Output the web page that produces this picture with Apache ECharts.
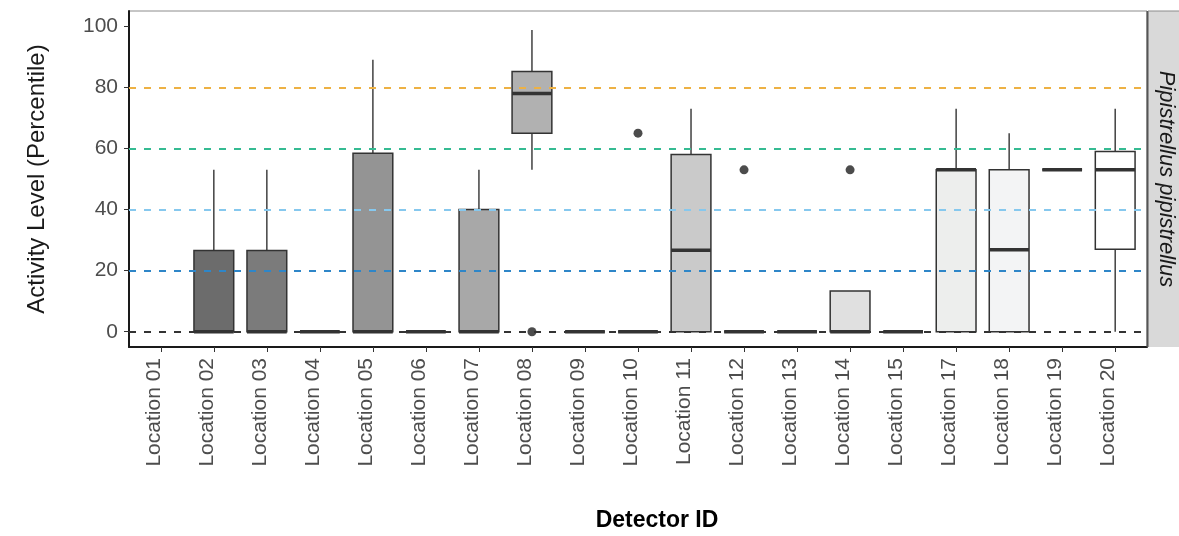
<!DOCTYPE html>
<html>
<head>
<meta charset="utf-8">
<script src="https://cdn.jsdelivr.net/npm/echarts@6/dist/echarts.min.js"></script>
<style>
  html, body { margin: 0; padding: 0; background: #ffffff; }
  #chart { width: 1179px; height: 536px; }
</style>
</head>
<body>
<div id="chart"></div>
<script>
// ---- data ----
const categories = ['Location 01','Location 02','Location 03','Location 04','Location 05','Location 06','Location 07','Location 08','Location 09','Location 10','Location 11','Location 12','Location 13','Location 14','Location 15','Location 17','Location 18','Location 19','Location 20'];
const lowerWhisker = [null, 0, 0, 0, 0, 0, 0, 53, 0, 0, 0, 0, 0, 0, 0, 0, 0, 53, 0];
const lowerQuartile = [null, 0, 0, 0, 0, 0, 0, 65, 0, 0, 0, 0, 0, 0, 0, 0, 0, 53, 27];
const medianValue = [null, 0, 0, 0, 0, 0, 0, 78, 0, 0, 26.7, 0, 0, 0, 0, 53, 26.8, 53, 53];
const upperQuartile = [null, 26.6, 26.6, 0, 58.4, 0, 40, 85.2, 0, 0, 58, 0, 0, 13.3, 0, 53, 53, 53, 59];
const upperWhisker = [null, 53, 53, 0, 89, 0, 53, 98.8, 0, 0, 73, 0, 0, 13.3, 0, 73, 65, 53, 73];
const outlierCategory = ['Location 08', 'Location 10', 'Location 12', 'Location 14'];
const outlierValue = [0, 65, 53, 53];
const referenceLevels = [0, 20, 40, 60, 80];
const yTickValues = [0, 20, 40, 60, 80, 100];
const facetLabel = 'Pipistrellus pipistrellus';

// ---- styles ----
const fillColors = ['#595959','#6C6C6C','#7B7B7B','#888888','#949494','#9E9E9E','#A8A8A8','#B1B1B1','#BABABA','#C2C2C2','#CACACA','#D2D2D2','#D9D9D9','#E0E0E0','#E6E6E6','#EDEEED','#F3F4F5','#F9F9F9','#FFFFFF'];
const referenceColors = ['#333333', '#2E86C8', '#86C8EE', '#35BB92', '#EDB144'];
const FONT = 'Liberation Sans, Arial, Helvetica, sans-serif';

const boxData = [];
categories.forEach((c, i) => {
  if (medianValue[i] === null) return;
  boxData.push([i, lowerWhisker[i], lowerQuartile[i], medianValue[i], upperQuartile[i], upperWhisker[i]]);
});
const outlierData = outlierCategory.map((c, k) => [categories.indexOf(c), outlierValue[k]]);
const xTickValues = categories.map((c, i) => i);

const chart = echarts.init(document.getElementById('chart'), null, { renderer: 'canvas' });

const option = {
  animation: false,
  backgroundColor: '#ffffff',
  grid: {
    left: 129, right: 32, top: 11, bottom: 189,
    show: true, borderColor: '#8c8c8c', borderWidth: 1, backgroundColor: 'transparent'
  },
  xAxis: {
    type: 'value', min: -0.6, max: 18.6,
    splitLine: { show: false },
    axisLine: { show: true, onZero: false, lineStyle: { color: '#1a1a1a', width: 2 } },
    axisTick: { show: true, customValues: xTickValues, length: 5, lineStyle: { color: '#333333', width: 1 } },
    axisLabel: {
      show: true, customValues: xTickValues, rotate: 90, margin: 11,
      formatter: v => categories[Math.round(v)] || '',
      fontSize: 21, color: '#4D4D4D', fontFamily: FONT, verticalAlign: 'bottom', lineHeight: 14
    }
  },
  yAxis: {
    type: 'value', min: -5, max: 105,
    name: 'Activity Level (Percentile)', nameLocation: 'middle', nameGap: 80,
    nameTextStyle: { fontSize: 24, color: '#1a1a1a', fontFamily: FONT },
    splitLine: { show: false },
    axisLine: { show: true, onZero: false, lineStyle: { color: '#1a1a1a', width: 2 } },
    axisTick: { show: true, customValues: yTickValues, length: 5, lineStyle: { color: '#333333', width: 1 } },
    axisLabel: { show: true, customValues: yTickValues, margin: 11, fontSize: 21, color: '#4D4D4D', fontFamily: FONT }
  },
  series: [
    {
      type: 'line', data: [], z: 1, silent: true,
      markLine: {
        silent: true, symbol: ['none', 'none'], animation: false,
        label: { show: false },
        data: referenceLevels.map((v, k) => ({ yAxis: v, lineStyle: { color: referenceColors[k], type: [7, 8], width: 1.8 } }))
      }
    },
    {
      type: 'custom', z: 2,
      data: boxData,
      encode: { x: 0, y: [1, 2, 3, 4, 5] },
      renderItem: function (params, api) {
        const i = api.value(0);
        const half = api.size([1, 0])[0] * 0.75 / 2;
        const pLo = api.coord([i, api.value(1)]);
        const pQ1 = api.coord([i, api.value(2)]);
        const pMed = api.coord([i, api.value(3)]);
        const pQ3 = api.coord([i, api.value(4)]);
        const pHi = api.coord([i, api.value(5)]);
        const stroke = '#333333';
        return {
          type: 'group',
          children: [
            { type: 'line', shape: { x1: pQ3[0], y1: pQ3[1], x2: pHi[0], y2: pHi[1] }, style: { stroke: stroke, lineWidth: 1.4 } },
            { type: 'line', shape: { x1: pQ1[0], y1: pQ1[1], x2: pLo[0], y2: pLo[1] }, style: { stroke: stroke, lineWidth: 1.4 } },
            { type: 'rect', shape: { x: pQ1[0] - half, y: pQ3[1], width: half * 2, height: pQ1[1] - pQ3[1] },
              style: { fill: fillColors[i], stroke: stroke, lineWidth: 1.5 } },
            { type: 'line', shape: { x1: pMed[0] - half, y1: pMed[1], x2: pMed[0] + half, y2: pMed[1] },
              style: { stroke: stroke, lineWidth: 3.5 } }
          ]
        };
      }
    },
    {
      type: 'scatter', z: 3,
      data: outlierData,
      symbol: 'circle', symbolSize: 9,
      itemStyle: { color: '#1f1f1f' }
    }
  ],
  graphic: [
    { type: 'rect', z: 0, shape: { x: 1148, y: 11, width: 40, height: 336 }, style: { fill: '#D9D9D9' } },
    { type: 'line', z: 10, shape: { x1: 1147.5, y1: 11, x2: 1147.5, y2: 347 }, style: { stroke: '#555555', lineWidth: 2 } },
    { type: 'line', z: 10, shape: { x1: 1148, y1: 11, x2: 1179, y2: 11 }, style: { stroke: '#8c8c8c', lineWidth: 1 } },
    { type: 'text', z: 10, x: 1166, y: 179, rotation: -Math.PI / 2,
      style: { text: facetLabel, font: 'italic 22px ' + FONT, fill: '#1a1a1a', textAlign: 'center', textVerticalAlign: 'middle' } },
    { type: 'text', z: 10, x: 657, y: 521,
      style: { text: 'Detector ID', font: 'bold 23px ' + FONT, fill: '#000000', textAlign: 'center', textVerticalAlign: 'middle' } }
  ]
};
chart.setOption(option);
</script>
</body>
</html>
